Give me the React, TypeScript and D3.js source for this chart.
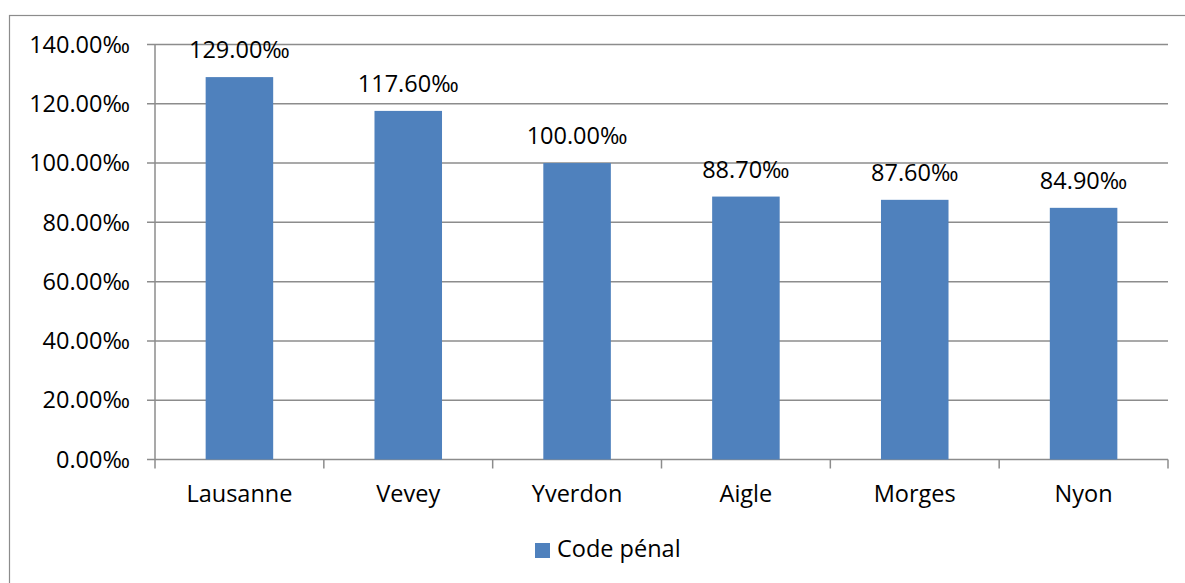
import React from "react";
import * as d3 from "d3";

const categories = ["Lausanne", "Vevey", "Yverdon", "Aigle", "Morges", "Nyon"];
const values = [129.0, 117.6, 100.0, 88.7, 87.6, 84.9];
const yTicks = [0, 20, 40, 60, 80, 100, 120, 140];
const seriesName = "Code pénal";

const W = 1185;
const H = 583;
const left = 155;
const right = 1168;
const top = 44.5;
const bottom = 459.5;
const FONT = "'Open Sans', 'Noto Sans', sans-serif";
const FS = 23.5;
const GRID = "#8c8c8c";
const BAR = "#4f81bd";

const fmt = (v: number) => v.toFixed(2) + "‰";

export default function App() {
  const x = d3.scaleBand<string>().domain(categories).range([left, right]).paddingInner(0.6).paddingOuter(0.3);
  const xc = d3.scaleBand<string>().domain(categories).range([left, right]);
  const y = d3.scaleLinear().domain([0, 140]).range([bottom, top]);

  return (
    <svg width={W} height={H} style={{ position: "absolute", left: 0, top: 0, background: "#fff" }}>
      <rect x={9.5} y={15.5} width={W + 20} height={H + 20} fill="#fff" stroke={GRID} strokeWidth={1.2} />
      {yTicks.map((t) => (
        <g key={t}>
          <line x1={left - 8} x2={right} y1={y(t)} y2={y(t)} stroke={GRID} strokeWidth={1.5} />
          <text x={130} y={y(t)} dy="0.35em" textAnchor="end" fontFamily={FONT} fontSize={FS} fill="#000">
            {fmt(t)}
          </text>
        </g>
      ))}
      <line x1={left} x2={left} y1={top} y2={bottom} stroke={GRID} strokeWidth={1.5} />
      {categories.map((c, i) => (
        <line key={"t" + i} x1={xc(c)!} x2={xc(c)!} y1={bottom} y2={bottom + 9} stroke={GRID} strokeWidth={1.5} />
      ))}
      <line x1={right} x2={right} y1={bottom} y2={bottom + 9} stroke={GRID} strokeWidth={1.5} />
      {categories.map((c, i) => (
        <rect key={"b" + i} x={x(c)!} y={y(values[i])} width={x.bandwidth()} height={bottom - y(values[i])} fill={BAR} />
      ))}
      {categories.map((c, i) => (
        <text key={"v" + i} x={x(c)! + x.bandwidth() / 2} y={y(values[i]) - 19} textAnchor="middle" fontFamily={FONT} fontSize={FS} fill="#000">
          {fmt(values[i])}
        </text>
      ))}
      {categories.map((c, i) => (
        <text key={"c" + i} x={xc(c)! + xc.bandwidth() / 2} y={502} textAnchor="middle" fontFamily={FONT} fontSize={FS} fill="#000">
          {c}
        </text>
      ))}
      <rect x={535} y={543} width={15} height={15} fill={BAR} />
      <text x={557} y={557} fontFamily={FONT} fontSize={FS} fill="#000">
        {seriesName}
      </text>
    </svg>
  );
}
